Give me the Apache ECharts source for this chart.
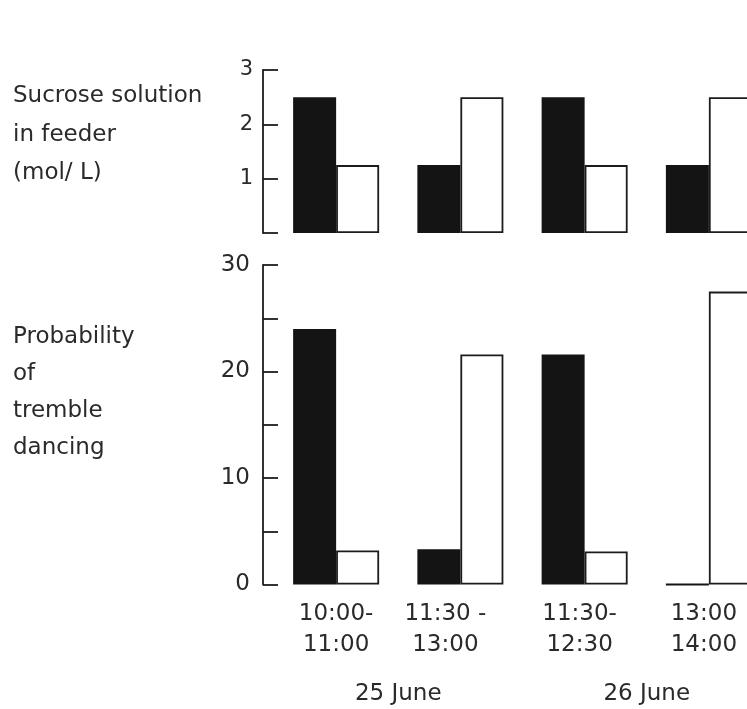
<!DOCTYPE html>
<html>
<head>
<meta charset="utf-8">
<script src="https://cdn.jsdelivr.net/npm/echarts@6/dist/echarts.min.js"></script>
<style>
html,body{margin:0;padding:0;background:#fff;overflow:hidden;}
#chart{width:800px;height:709px;}
</style>
</head>
<body>
<div id="chart"></div>
<script>
// ---- data ----
const timeSlots = ['10:00-\n11:00', '11:30 -\n13:00', '11:30-\n12:30', '13:00\n14:00'];
const days = ['25 June', '26 June'];
const sucroseFilled = [2.5, 1.25, 2.5, 1.25];   // black bars (mol/L)
const sucroseOpen   = [1.25, 2.5, 1.25, 2.5];   // white bars (mol/L)
const trembleFilled = [24.0, 3.3, 21.6, 0];     // black bars
const trembleOpen   = [3.2, 21.6, 3.1, 27.5];   // white bars
const topTicks = [1, 2, 3];
const bottomTicks = [0, 10, 20, 30];
const topTitle = ['Sucrose solution', 'in feeder', '(mol/ L)'];
const bottomTitle = ['Probability', 'of', 'tremble', 'dancing'];

// ---- chart ----
const FONT = 'DejaVu Sans';
const INK = '#1c1c1c';
const TXT = '#2a2a2a';
const chart = echarts.init(document.getElementById('chart'), null, {renderer: 'canvas'});

const gridLeft = 274, gridWidth = 497;
const labelShift = [0, 30, 10, 10]; // right padding to nudge labels left

const yAxisCommon = {
  type: 'value',
  offset: 11,
  axisLine: {show: true, lineStyle: {color: INK, width: 1.8}},
  axisTick: {show: true, inside: true, length: 15, lineStyle: {color: INK, width: 1.8}},
  splitLine: {show: false},
  axisLabel: {color: TXT, fontFamily: FONT, margin: 10}
};

const filledStyle = {color: '#141414', borderColor: '#141414', borderWidth: 1.8};
const openStyle = {color: '#ffffff', borderColor: INK, borderWidth: 1.8};

const option = {
  backgroundColor: '#ffffff',
  animation: false,
  grid: [
    {left: gridLeft, width: gridWidth, top: 70, height: 163},
    {left: gridLeft, width: gridWidth, top: 265, height: 319.5}
  ],
  xAxis: [
    {type: 'category', gridIndex: 0, data: timeSlots,
     axisLine: {show: false}, axisTick: {show: false}, axisLabel: {show: false}},
    {type: 'category', gridIndex: 1, data: timeSlots.map((t, i) => ({
        value: t, textStyle: {padding: [0, labelShift[i], 0, 0]}})),
     axisLine: {show: false}, axisTick: {show: false},
     axisLabel: {color: TXT, fontFamily: FONT, fontSize: 23, lineHeight: 31, margin: 14}},
    {type: 'category', gridIndex: 1, data: days, position: 'bottom',
     axisLine: {show: false}, axisTick: {show: false},
     axisLabel: {color: TXT, fontFamily: FONT, fontSize: 23, margin: 98}}
  ],
  yAxis: [
    Object.assign({}, yAxisCommon, {gridIndex: 0, min: 0, max: 3, interval: 1,
      axisLabel: Object.assign({}, yAxisCommon.axisLabel, {fontSize: 21,
        formatter: v => topTicks.indexOf(v) >= 0 ? String(v) : ''})}),
    Object.assign({}, yAxisCommon, {gridIndex: 1, min: 0, max: 30, interval: 5,
      axisLabel: Object.assign({}, yAxisCommon.axisLabel, {fontSize: 23, margin: 13,
        formatter: v => bottomTicks.indexOf(v) >= 0 ? String(v) : ''})})
  ],
  series: [
    {name: 'Filled', type: 'bar', xAxisIndex: 0, yAxisIndex: 0, data: sucroseFilled,
     barWidth: 43, barGap: '0%', itemStyle: filledStyle},
    {name: 'Open', type: 'bar', xAxisIndex: 0, yAxisIndex: 0, data: sucroseOpen,
     barWidth: 43, barGap: '0%', itemStyle: openStyle},
    {name: 'Filled', type: 'bar', xAxisIndex: 1, yAxisIndex: 1, data: trembleFilled,
     barWidth: 43, barGap: '0%', itemStyle: filledStyle},
    {name: 'Open', type: 'bar', xAxisIndex: 1, yAxisIndex: 1, data: trembleOpen,
     barWidth: 43, barGap: '0%', itemStyle: openStyle}
  ],
  graphic: [
    {type: 'text', left: 13, top: 77, style: {text: topTitle.join('\n'),
      font: '23px "' + FONT + '"', lineHeight: 38.5, fill: TXT}},
    {type: 'text', left: 13, top: 319, style: {text: bottomTitle.join('\n'),
      font: '23px "' + FONT + '"', lineHeight: 37, fill: TXT}}
  ]
};
chart.setOption(option);
</script>
</body>
</html>
